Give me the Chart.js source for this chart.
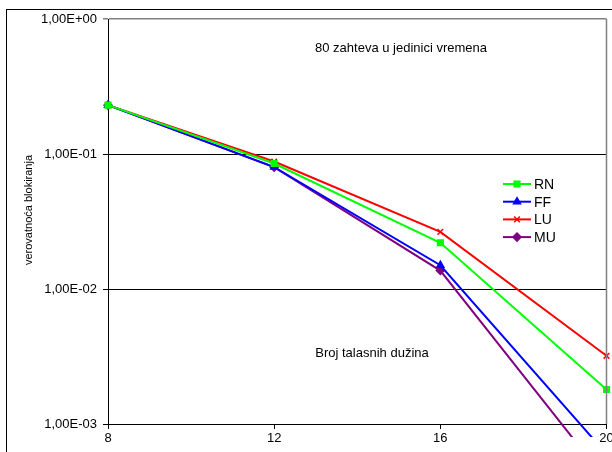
<!DOCTYPE html>
<html>
<head>
<meta charset="utf-8">
<script src="https://cdn.jsdelivr.net/npm/chart.js@4"></script>
<style>
  html, body { margin: 0; padding: 0; background: #fff; }
  #wrap { width: 612px; height: 452px; }
</style>
</head>
<body>
<div id="wrap"><canvas id="chart" width="612" height="452"></canvas></div>
<script>
// ── Data ─────────────────────────────────────────────────
const WAVELENGTHS = [8, 12, 16, 20];
const RN = [0.23, 0.085, 0.022, 0.0018];
const FF = [0.23, 0.080, 0.015, 0.0006];
const LU = [0.23, 0.088, 0.0265, 0.0032];
const MU = [0.23, 0.080, 0.0137, 0.00038];
const Y_TICKS = [0.001, 0.01, 0.1, 1];
const Y_TICK_LABELS = ["1,00E-03", "1,00E-02", "1,00E-01", "1,00E+00"];

const FONT = "'Liberation Sans', Arial, sans-serif";

const SERIES = [
  { label: "RN", values: RN, color: "#00ff00", style: "rect" },
  { label: "FF", values: FF, color: "#0000ff", style: "triangle" },
  { label: "LU", values: LU, color: "#ff0000", style: "crossRot" },
  { label: "MU", values: MU, color: "#800080", style: "rectRot" }
];

// ── Frame, texts and legend drawn on the canvas ──────────
const decorPlugin = {
  id: "decor",
  beforeDraw: (chart) => {
    const { ctx } = chart;
    ctx.save();
    ctx.strokeStyle = "#000";
    ctx.lineWidth = 1;
    ctx.strokeRect(6.5, 9.5, 700, 600);
    ctx.restore();
  },
  afterDraw: (chart) => {
    const { ctx } = chart;
    const { top, right, bottom } = chart.chartArea;
    ctx.save();
    // gray right border of plot area
    ctx.strokeStyle = "#808080";
    ctx.lineWidth = 1.5;
    ctx.beginPath();
    ctx.moveTo(right, top);
    ctx.lineTo(right, bottom);
    ctx.stroke();

    ctx.fillStyle = "#000";
    ctx.textAlign = "center";
    ctx.textBaseline = "middle";
    ctx.font = "13px " + FONT;
    ctx.fillText("80 zahteva u jedinici vremena", 401, 48);
    ctx.fillText("Broj talasnih dužina", 372, 353);

    // y axis title
    ctx.font = "11px " + FONT;
    ctx.translate(29, 210);
    ctx.rotate(-Math.PI / 2);
    ctx.fillText("verovatnoća blokiranja", 0, 0);
    ctx.setTransform(1, 0, 0, 1, 0, 0);

    // legend
    ctx.font = "14px " + FONT;
    ctx.textAlign = "left";
    SERIES.forEach((s, i) => {
      const y = 184 + i * 17.7;
      ctx.strokeStyle = s.color;
      ctx.fillStyle = s.color;
      ctx.lineWidth = 2;
      ctx.beginPath();
      ctx.moveTo(503, y);
      ctx.lineTo(531, y);
      ctx.stroke();
      ctx.lineWidth = 1.5;
      Chart.helpers.drawPoint(ctx, { pointStyle: s.style, radius: 4, rotation: 0, borderWidth: 1.5 }, 517, y);
      ctx.fill();
      ctx.fillStyle = "#000";
      ctx.fillText(s.label, 534, y + 1);
    });
    ctx.restore();
  }
};

const datasets = SERIES.map(s => ({
  label: s.label,
  data: WAVELENGTHS.map((x, i) => ({ x: x, y: s.values[i] })),
  borderColor: s.color,
  backgroundColor: s.color,
  borderWidth: 2,
  tension: 0,
  fill: false,
  pointStyle: s.style,
  pointRadius: 4,
  pointBorderWidth: 1.5,
  pointBorderColor: s.color,
  pointBackgroundColor: s.color,
  clip: { left: 5, top: 5, right: 5, bottom: 13 }
}));

new Chart(document.getElementById("chart"), {
  type: "line",
  data: { datasets: datasets },
  plugins: [decorPlugin],
  options: {
    responsive: false,
    animation: false,
    layout: { padding: { top: 19, right: 5, left: 0, bottom: 0 } },
    plugins: {
      legend: { display: false },
      tooltip: { enabled: false }
    },
    scales: {
      x: {
        type: "linear",
        min: 8,
        max: 20,
        afterFit: s => { s.height = 28; s.paddingRight = 0; s.paddingLeft = 0; },
        border: { color: "#000", width: 1 },
        grid: { drawOnChartArea: false, drawTicks: true, tickLength: 5, color: "#000" },
        ticks: {
          stepSize: 4,
          padding: 2,
          color: "#000",
          font: { family: FONT, size: 13 }
        }
      },
      y: {
        type: "logarithmic",
        min: 0.001,
        max: 1,
        afterFit: s => { s.width = 108; s.paddingTop = 0; s.paddingBottom = 0; },
        afterBuildTicks: s => { s.ticks = Y_TICKS.map(v => ({ value: v })); },
        border: { color: "#000", width: 1 },
        grid: {
          tickLength: 5,
          color: c => (c.tick && c.tick.value === 1) ? "#808080" : "#000",
          lineWidth: c => (c.tick && c.tick.value === 1) ? 1.5 : 1
        },
        ticks: {
          padding: 6,
          color: "#000",
          font: { family: FONT, size: 13 },
          callback: (v, i) => Y_TICK_LABELS[i]
        }
      }
    }
  }
});
</script>
</body>
</html>
